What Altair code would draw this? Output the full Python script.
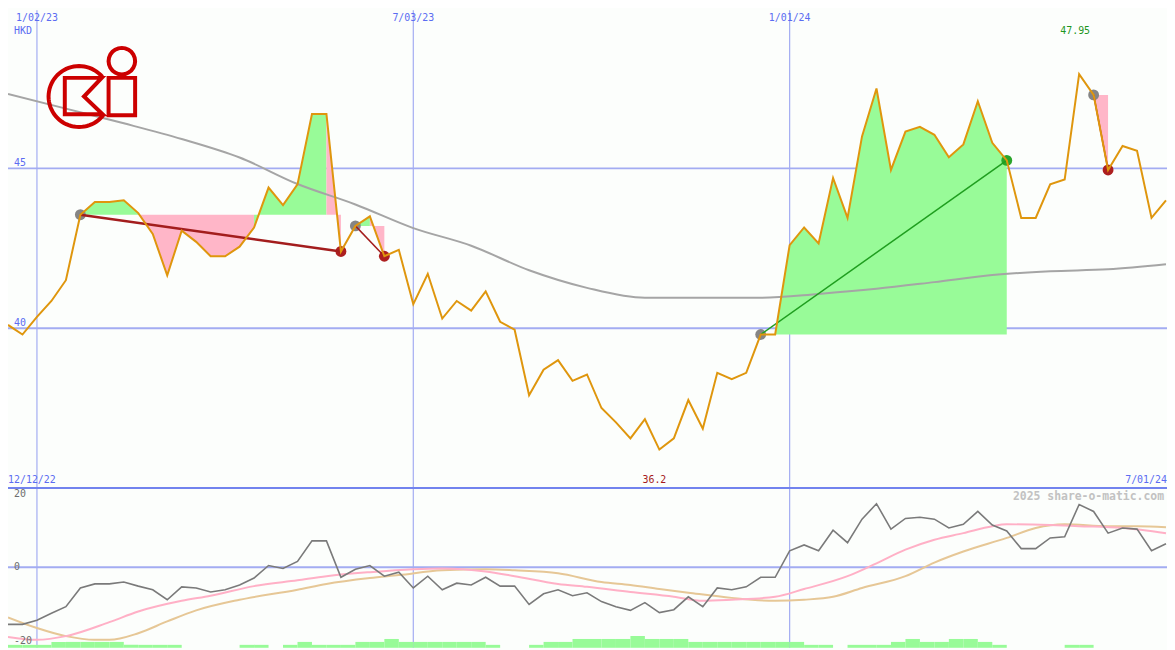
import math
import altair as alt
import pandas as pd

# ---------------- data (weekly points) ----------------
price = [40.1, 39.8, 40.35, 40.85, 41.5, 43.55, 43.95, 43.95, 44.0, 43.6,
         42.95, 41.65, 43.05, 42.7, 42.25, 42.25, 42.55, 43.15, 44.4, 43.85,
         44.5, 46.7, 46.7, 42.4, 43.2, 43.5, 42.25, 42.45, 40.75, 41.7,
         40.3, 40.85, 40.55, 41.15, 40.2, 39.95, 37.9, 38.7, 39.0, 38.35,
         38.55, 37.5, 37.05, 36.55, 37.15, 36.2, 36.55, 37.75, 36.85, 38.6,
         38.4, 38.6, 39.8, 39.8, 42.6, 43.15, 42.65, 44.7, 43.45, 46.0,
         47.5, 44.95, 46.15, 46.3, 46.05, 45.35, 45.75, 47.1, 45.8, 45.25,
         43.45, 43.45, 44.5, 44.65, 47.95, 47.3, 44.95, 45.7, 45.55, 43.45,
         44.0]

ma_week = [0, 4, 8, 12, 16, 20, 24, 28, 32, 36, 40, 44, 48, 52, 56, 60, 64, 68, 72, 76, 80]
ma_val = [47.33, 46.87, 46.41, 45.92, 45.34, 44.51, 43.87, 43.13, 42.58, 41.81,
          41.26, 40.95, 40.95, 40.95, 41.07, 41.23, 41.44, 41.66, 41.78, 41.84, 42.0]

osc = [-15.5, -15.5, -14.4, -12.5, -10.7, -5.6, -4.5, -4.5, -4.0, -5.1,
       -6.1, -8.8, -5.3, -5.6, -6.7, -6.1, -4.8, -2.9, 0.5, -0.3,
       1.6, 7.2, 7.2, -2.7, -0.5, 0.5, -2.4, -1.3, -5.6, -2.4,
       -6.1, -4.3, -4.8, -2.7, -5.1, -5.1, -10.1, -7.2, -6.1, -7.7,
       -6.9, -9.3, -10.7, -11.7, -9.6, -12.3, -11.5, -8.0, -10.7, -5.6,
       -6.1, -5.3, -2.7, -2.7, 4.5, 6.1, 4.5, 10.1, 6.7, 13.1,
       17.3, 10.4, 13.3, 13.6, 13.1, 10.7, 11.7, 15.2, 11.5, 9.9,
       5.1, 5.1, 8.0, 8.3, 17.1, 15.2, 9.3, 10.7, 10.4, 4.5,
       6.4]

pink_week = [0, 2, 4, 7, 9, 12, 14, 17, 20, 22, 25, 28, 30, 33, 35, 38, 40, 43, 46, 48,
             50, 53, 55, 58, 60, 62, 64, 66, 68, 69, 72, 74, 77, 80]
pink_val = [-18.9, -19.7, -18.7, -14.9, -12.0, -9.1, -7.7, -5.1, -3.5, -2.4,
            -1.3, -0.5, -0.3, -1.1, -2.4, -4.5, -5.3, -6.7, -8.0, -9.1,
            -8.8, -8.0, -5.9, -2.4, 1.1, 4.8, 7.5, 9.3, 11.2, 11.7,
            11.5, 11.2, 10.7, 9.3]

tan_week = [0, 2, 4, 6, 7, 9, 11, 13, 16, 20, 22, 25, 27, 30, 33, 35, 38, 41, 43, 45,
            47, 50, 53, 55, 57, 59, 62, 64, 66, 69, 71, 73, 76, 78, 80]
tan_val = [-13.6, -16.5, -18.7, -19.7, -19.7, -17.9, -14.7, -11.7, -8.8, -6.1,
           -4.5, -2.9, -2.1, -0.8, -0.5, -0.8, -1.6, -4.0, -4.8, -5.9,
           -6.9, -8.3, -9.1, -8.8, -8.0, -5.6, -2.4, 1.3, 4.3, 8.0,
           10.7, 11.7, 11.2, 11.2, 10.9]

vol_level = [1, 1, 1, 2, 2, 2, 2, 2, 1, 1, 1, 1, 0, 0, 0, 0, 1, 1, 0, 1,
             2, 1, 1, 1, 2, 2, 3, 2, 2, 2, 2, 2, 2, 1, 0, 0, 1, 2, 2, 3,
             3, 3, 3, 4, 3, 3, 3, 2, 2, 2, 2, 2, 2, 2, 2, 1, 1, 0, 1, 1,
             1, 2, 3, 2, 2, 3, 3, 2, 1, 0, 0, 0, 0, 1, 1, 0, 0, 0, 0, 0,
             0]

entry_week = [5, 24, 52, 75]
exit_week = [23, 26, 69, 76]

tick_week = [2, 28, 54]
tick_label = ["1/02/23", "7/03/23", "1/01/24"]

# ---------------- layout ----------------
W, H = 1167, 642
TOP = 481
XMAX = 80.07
FONT = "DejaVu Sans Mono"
BLUE_TXT = "#5b6cf2"
GRID = "#a3acf2"
GREEN_FILL = "#98fb98"
PINK_FILL = "#ffb6c8"

weeks = list(range(len(price)))
df_price = pd.DataFrame({"w": weeks, "p": price})
df_ma = pd.DataFrame({"w": ma_week, "v": ma_val})
df_osc = pd.DataFrame({"w": weeks, "v": osc})
df_pink = pd.DataFrame({"w": pink_week, "v": pink_val})
df_tan = pd.DataFrame({"w": tan_week, "v": tan_val})
df_vol = pd.DataFrame({"w": weeks, "w2": [w + 1 for w in weeks], "lev": vol_level, "base": 0})
df_vol = df_vol[df_vol.lev > 0]

# fill table: between price and entry level of each trade, each segment coloured
# by the side of its end point; consecutive segments of one colour form one run
rows = []
run = 0
for t, (e, x) in enumerate(zip(entry_week, exit_week)):
    L = price[e]
    prev = None
    for i in range(e, x):
        col = GREEN_FILL if price[i + 1] >= L else PINK_FILL
        if col != prev:
            run += 1
            rows.append(dict(run=run, w=i, p=price[i], L=L, col=col))
            prev = col
        rows.append(dict(run=run, w=i + 1, p=price[i + 1], L=L, col=col))
df_fill = pd.DataFrame(rows)

trade_rows, entry_rows, exit_rows = [], [], []
for t, (e, x) in enumerate(zip(entry_week, exit_week)):
    win = price[x] > price[e]
    col = "#1f9e1f" if win else "#a31d1d"
    sw = 2.5 if t == 0 else 1.5
    trade_rows.append(dict(trade=t, w=e, p=price[e], col=col, sw=sw))
    trade_rows.append(dict(trade=t, w=x, p=price[x], col=col, sw=sw))
    entry_rows.append(dict(w=e, p=price[e]))
    exit_rows.append(dict(w=x, p=price[x], col="#2aa52a" if win else "#ad1f1f"))
df_trade = pd.DataFrame(trade_rows)
df_entry = pd.DataFrame(entry_rows)
df_exit = pd.DataFrame(exit_rows)

xs = alt.Scale(domain=[0, XMAX], nice=False, zero=False)
X = alt.X("w:Q", scale=xs, axis=None)
ps = alt.Scale(domain=[35.0, 49.95], range=[TOP, 0], nice=False, zero=False)
ins = alt.Scale(domain=[-21.87, 21.6], range=[H, TOP], nice=False, zero=False)
vs = alt.Scale(domain=[0, 54.3], range=[H, TOP], nice=False, zero=False)


def PY(f):
    return alt.Y(f, scale=ps, axis=None)


def IY(f):
    return alt.Y(f, scale=ins, axis=None)


layers = []

# grid
df_ticks = pd.DataFrame({"w": tick_week, "label": tick_label, "top": 49.95})
layers.append(alt.Chart(df_ticks).mark_rule(color=GRID, strokeWidth=1.2).encode(x=X))
layers.append(alt.Chart(pd.DataFrame({"y": [45, 40]})).mark_rule(color=GRID, strokeWidth=2).encode(y=PY("y:Q")))
layers.append(alt.Chart(pd.DataFrame({"y": [0]})).mark_rule(color=GRID, strokeWidth=2).encode(y=IY("y:Q")))
layers.append(alt.Chart(pd.DataFrame({"y": [35.0]})).mark_rule(color="#7283ee", strokeWidth=2).encode(y=PY("y:Q")))

# trade fills
layers.append(alt.Chart(df_fill).mark_area(opacity=1, interpolate="linear").encode(
    x=X, y=PY("p:Q"), y2="L:Q", detail="run:N", color=alt.Color("col:N", scale=None)))

# long moving average
layers.append(alt.Chart(df_ma).mark_line(color="#a5a5a5", strokeWidth=2, interpolate="monotone").encode(
    x=X, y=PY("v:Q")))

# dots
layers.append(alt.Chart(df_entry).mark_point(filled=True, color="#858585", size=120, opacity=1).encode(
    x=X, y=PY("p:Q")))
layers.append(alt.Chart(df_exit).mark_point(filled=True, size=120, opacity=1).encode(
    x=X, y=PY("p:Q"), color=alt.Color("col:N", scale=None)))

# trade lines
layers.append(alt.Chart(df_trade).mark_line().encode(
    x=X, y=PY("p:Q"), detail="trade:N",
    color=alt.Color("col:N", scale=None),
    strokeWidth=alt.StrokeWidth("sw:Q", scale=None)))

# price
layers.append(alt.Chart(df_price).mark_line(color="#df960d", strokeWidth=2).encode(x=X, y=PY("p:Q")))

# lower panel
layers.append(alt.Chart(df_vol).mark_rect(color="#98fb98").encode(
    x=X, x2="w2:Q", y=alt.Y("lev:Q", scale=vs, axis=None), y2="base:Q"))
layers.append(alt.Chart(df_tan).mark_line(color="#e6c796", strokeWidth=2, interpolate="monotone").encode(
    x=X, y=IY("v:Q")))
layers.append(alt.Chart(df_pink).mark_line(color="#ffb0c6", strokeWidth=2, interpolate="monotone").encode(
    x=X, y=IY("v:Q")))
layers.append(alt.Chart(df_osc).mark_line(color="#7a7a7a", strokeWidth=1.6).encode(x=X, y=IY("v:Q")))

# texts
layers.append(alt.Chart(df_ticks).mark_text(font=FONT, fontSize=10, color=BLUE_TXT, baseline="middle", dy=8).encode(
    x=X, y=PY("top:Q"), text="label:N"))
layers.append(alt.Chart(pd.DataFrame({"w": [0], "y": [49.95], "t": ["HKD"]})).mark_text(
    font=FONT, fontSize=10, color=BLUE_TXT, align="left", baseline="middle", dx=6, dy=21).encode(
    x=X, y=PY("y:Q"), text="t:N"))
layers.append(alt.Chart(pd.DataFrame({"w": [0, 0], "y": [45, 40], "t": ["45", "40"]})).mark_text(
    font=FONT, fontSize=10, color=BLUE_TXT, align="left", baseline="middle", dx=6, dy=-5).encode(
    x=X, y=PY("y:Q"), text="t:N"))

imax = price.index(max(price))
imin = price.index(min(price))
layers.append(alt.Chart(pd.DataFrame({"w": [imax], "y": [49.95], "t": [f"{max(price):.2f}"]})).mark_text(
    font=FONT, fontSize=10, color="#1e961e", baseline="middle", dx=-4, dy=21).encode(
    x=X, y=PY("y:Q"), text="t:N"))
layers.append(alt.Chart(pd.DataFrame({"w": [imin], "y": [35.0], "t": [f"{min(price):.1f}"]})).mark_text(
    font=FONT, fontSize=10, color="#a51a1a", baseline="middle", dx=-5, dy=-8).encode(
    x=X, y=PY("y:Q"), text="t:N"))
layers.append(alt.Chart(pd.DataFrame({"w": [0], "y": [35.0], "t": ["12/12/22"]})).mark_text(
    font=FONT, fontSize=10, color=BLUE_TXT, align="left", baseline="middle", dy=-8).encode(
    x=X, y=PY("y:Q"), text="t:N"))
layers.append(alt.Chart(pd.DataFrame({"w": [XMAX], "y": [35.0], "t": ["7/01/24"]})).mark_text(
    font=FONT, fontSize=10, color=BLUE_TXT, align="right", baseline="middle", dy=-8).encode(
    x=X, y=PY("y:Q"), text="t:N"))
layers.append(alt.Chart(pd.DataFrame({"w": [XMAX], "y": [35.0], "t": ["2025 share-o-matic.com"]})).mark_text(
    font=FONT, fontSize=11.5, fontWeight="bold", color="#c2c2c2", align="right", baseline="middle", dx=-3, dy=9).encode(
    x=X, y=PY("y:Q"), text="t:N"))
layers.append(alt.Chart(pd.DataFrame({"w": [0, 0, 0], "y": [20, 0, -20], "t": ["20", "0", "-20"]})).mark_text(
    font=FONT, fontSize=10, color="#6e6e6e", align="left", baseline="middle", dx=6).encode(
    x=X, y=IY("y:Q"), text="t:N"))

# logo (outline drawn as one custom symbol)
LC = (85.0, 80.0)
LS = 46.0


def nrm(x, y):
    return f"{(x - LC[0]) / LS:.3f} {(y - LC[1]) / LS:.3f}"


parts = []
arc = []
a = -40
while a >= -325:
    r = math.radians(a)
    arc.append(nrm(72 + 31 * math.cos(r), 88 + 31 * math.sin(r)))
    a -= 5
parts.append("M " + " L ".join(arc))
parts.append("M " + " L ".join([nrm(57.5, 69), nrm(95, 69), nrm(77, 88), nrm(96, 106), nrm(57.5, 106)]) + " Z")
parts.append("M " + " L ".join([nrm(102, 69), nrm(129, 69), nrm(129, 107), nrm(102, 107)]) + " Z")
dot = []
for k in range(0, 360, 15):
    r = math.radians(k)
    dot.append(nrm(115.5 + 13.5 * math.cos(r), 52 + 13.5 * math.sin(r)))
parts.append("M " + " L ".join(dot) + " Z")
logo_path = " ".join(parts)
sc = 0.99
layers.append(alt.Chart(pd.DataFrame({"k": [0]})).mark_point(
    shape=logo_path, size=(2 * LS * sc) ** 2, filled=False, stroke="#cc0000", strokeWidth=4, opacity=1).encode(
    x=alt.value(LC[0] * W / 1175), y=alt.value(LC[1] * H / 650)))

chart = alt.layer(*layers).resolve_scale(y="independent").properties(
    width=W, height=H, padding=0, autosize=alt.AutoSizeParams(type="none"),
    background="#fcfefc"
).configure_view(stroke=None)

chart.save("out.html", embed_options={"renderer": "svg", "actions": False})
